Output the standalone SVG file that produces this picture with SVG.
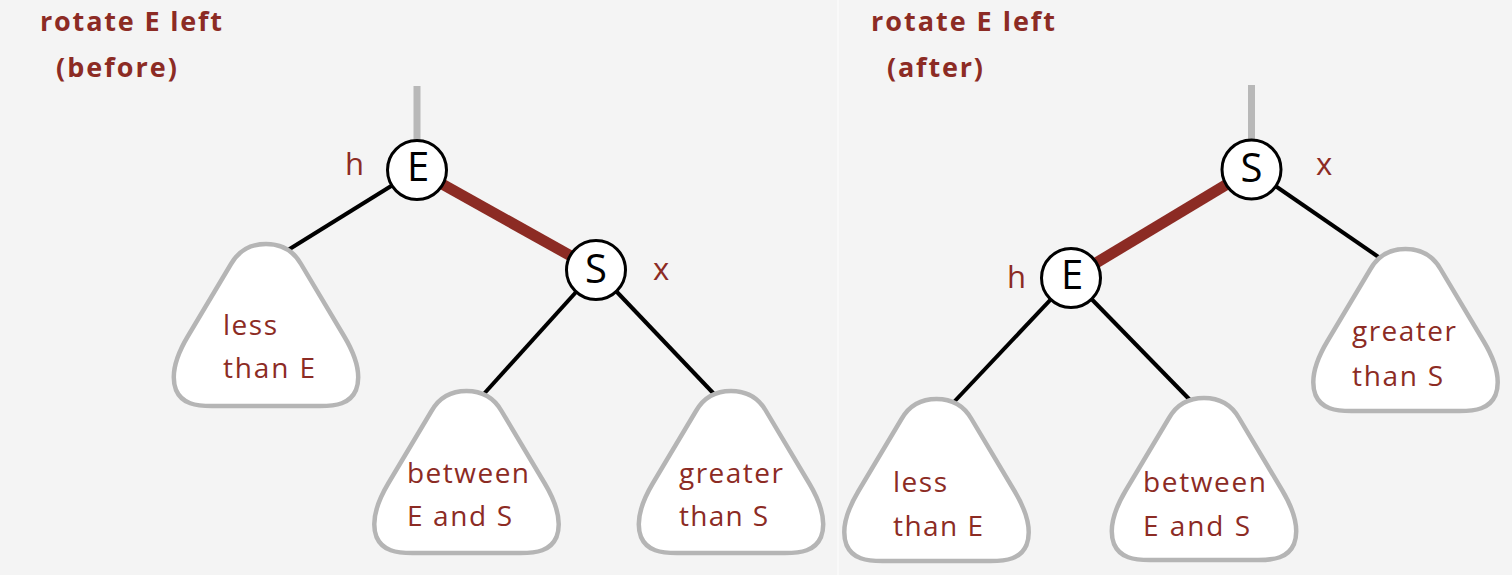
<svg xmlns="http://www.w3.org/2000/svg" xmlns:xlink="http://www.w3.org/1999/xlink" width="1512" height="575" viewBox="0 0 1512 575">
<style>
.title{font-family:"Open Sans","Liberation Sans",sans-serif;font-weight:bold;font-size:27px;fill:#8c2b24}
.lbl{font-family:"Open Sans","Liberation Sans",sans-serif;font-size:28px;fill:#8c2b24}
.var{font-family:"Open Sans","Liberation Sans",sans-serif;font-size:31px;fill:#8c2b24}
.key{font-family:"Open Sans","Liberation Sans",sans-serif;font-size:40px;fill:#000;text-anchor:middle}
.circ{fill:#fff;stroke:#000;stroke-width:3}
.tri{fill:#fff;stroke:#b5b5b5;stroke-width:4.5}
.edge{stroke:#000;stroke-width:4;fill:none}
.red{stroke:#8c2b24;stroke-width:11;fill:none}
.up{stroke:#b8b8b8;stroke-width:7;fill:none}
</style>
<defs>
<path id="tri" d="M0,0 C16,0 27,6 35,20 L78,92 C90,112 96,130 90,146 C84,160 70,162 54,162 L-54,162 C-70,162 -84,160 -90,146 C-96,130 -90,112 -78,92 L-35,20 C-27,6 -16,0 0,0 Z"/>
</defs>
<rect x="0" y="0" width="1512" height="575" fill="#f4f4f4"/>
<line x1="838" y1="0" x2="838" y2="575" stroke="#fbfbfb" stroke-width="1.5"/>
<g id="titles">
<text class="title" x="40" y="31" textLength="182" lengthAdjust="spacing">rotate E left</text>
<text class="title" x="56" y="77" textLength="121" lengthAdjust="spacing">(before)</text>
<text class="title" x="871" y="31" textLength="184" lengthAdjust="spacing">rotate E left</text>
<text class="title" x="887" y="77" textLength="96" lengthAdjust="spacing">(after)</text>
</g>
<g id="connectors">
<line class="up" x1="417" y1="86" x2="417" y2="145"/>
<line class="edge" x1="417" y1="170" x2="288" y2="250"/>
<line class="red" x1="417" y1="170" x2="596" y2="270"/>
<line class="edge" x1="596" y1="270" x2="482" y2="396"/>
<line class="edge" x1="596" y1="270" x2="715" y2="395"/>
<line class="up" x1="1251.5" y1="85" x2="1251.5" y2="145"/>
<line class="red" x1="1251.5" y1="169.5" x2="1071" y2="278"/>
<line class="edge" x1="1251.5" y1="169.5" x2="1380" y2="258"/>
<line class="edge" x1="1071" y1="278" x2="953" y2="403"/>
<line class="edge" x1="1071" y1="278" x2="1191" y2="401"/>
</g>
<g id="L-less">
<use xlink:href="#tri" class="tri" x="266" y="244"/>
<text class="lbl" x="223" y="335" textLength="54" lengthAdjust="spacing">less</text>
<text class="lbl" x="223" y="378" textLength="92" lengthAdjust="spacing">than E</text>
</g>
<g id="L-between">
<use xlink:href="#tri" class="tri" x="466.5" y="391"/>
<text class="lbl" x="407" y="483" textLength="122" lengthAdjust="spacing">between</text>
<text class="lbl" x="407" y="526" textLength="105" lengthAdjust="spacing">E and S</text>
</g>
<g id="L-greater">
<use xlink:href="#tri" class="tri" x="731" y="391"/>
<text class="lbl" x="679" y="483" textLength="104" lengthAdjust="spacing">greater</text>
<text class="lbl" x="679" y="526" textLength="89" lengthAdjust="spacing">than S</text>
</g>
<g id="L-E">
<circle class="circ" cx="417" cy="170" r="29.5"/>
<text class="key" x="418" y="181">E</text>
<text class="var" x="345" y="175">h</text>
</g>
<g id="L-S">
<circle class="circ" cx="596" cy="270" r="29.5"/>
<text class="key" x="596" y="283">S</text>
<text class="var" x="653" y="280">x</text>
</g>
<g id="R-less">
<use xlink:href="#tri" class="tri" x="936.5" y="399"/>
<text class="lbl" x="893" y="492" textLength="54" lengthAdjust="spacing">less</text>
<text class="lbl" x="893" y="536" textLength="90" lengthAdjust="spacing">than E</text>
</g>
<g id="R-between">
<use xlink:href="#tri" class="tri" x="1204" y="398"/>
<text class="lbl" x="1143" y="492" textLength="123" lengthAdjust="spacing">between</text>
<text class="lbl" x="1143" y="536" textLength="107" lengthAdjust="spacing">E and S</text>
</g>
<g id="R-greater">
<use xlink:href="#tri" class="tri" x="1405.5" y="249"/>
<text class="lbl" x="1352" y="341" textLength="104" lengthAdjust="spacing">greater</text>
<text class="lbl" x="1352" y="386" textLength="91" lengthAdjust="spacing">than S</text>
</g>
<g id="R-S">
<circle class="circ" cx="1251.5" cy="169.5" r="29.5"/>
<text class="key" x="1251.5" y="182">S</text>
<text class="var" x="1316" y="175">x</text>
</g>
<g id="R-E">
<circle class="circ" cx="1071" cy="278" r="29.5"/>
<text class="key" x="1072" y="289">E</text>
<text class="var" x="1007" y="288">h</text>
</g>
</svg>
